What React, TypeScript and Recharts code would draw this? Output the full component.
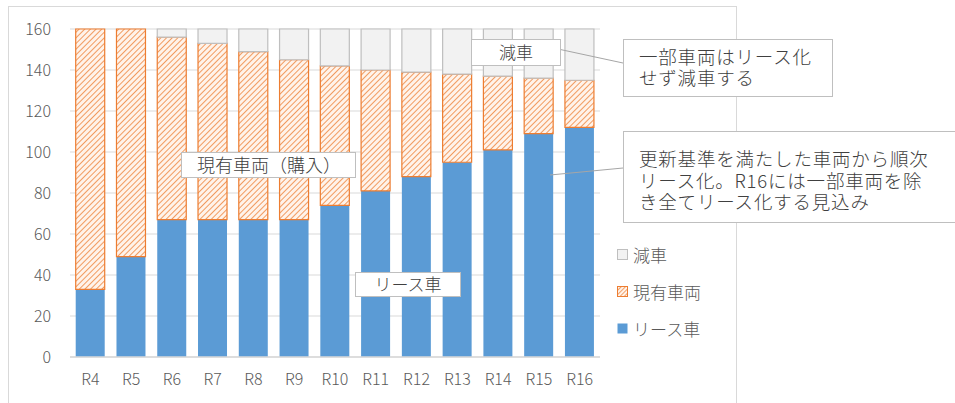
import { BarChart, Bar, XAxis, YAxis, CartesianGrid } from 'recharts';

const categories = ['R4', 'R5', 'R6', 'R7', 'R8', 'R9', 'R10', 'R11', 'R12', 'R13', 'R14', 'R15', 'R16'];
const leaseCars = [33, 49, 67, 67, 67, 67, 74, 81, 88, 95, 101, 109, 112];
const existingCars = [127, 111, 89, 86, 82, 78, 68, 59, 51, 43, 36, 27, 23];
const reducedCars = [0, 0, 4, 7, 11, 15, 18, 20, 21, 22, 23, 24, 25];
const yTicks = [0, 20, 40, 60, 80, 100, 120, 140, 160];

const series = [
  { key: 'reduced', label: '減車', fill: '#F2F2F2', stroke: '#BFBFBF' },
  { key: 'existing', label: '現有車両', fill: 'url(#hatchSmall)', stroke: '#ED7D31' },
  { key: 'lease', label: 'リース車', fill: '#5B9BD5', stroke: 'none' },
];

const data = categories.map((name, i) => ({
  name,
  lease: leaseCars[i],
  existing: existingCars[i],
  reduced: reducedCars[i],
}));

const FONT = '"Noto Sans CJK JP", "Noto Sans", sans-serif';

function LegendBox() {
  return (
    <div style={{ position: 'absolute', left: 617, top: 236, fontFamily: FONT, fontWeight: 300, fontSize: 17, color: '#595959' }}>
      {series.map((s) => (
        <div key={s.key} style={{ display: 'flex', alignItems: 'center', height: 37 }}>
          <svg width={11} height={11} style={{ marginRight: 5 }}>
            <rect x={0.5} y={0.5} width={10} height={10} fill={s.fill} stroke={s.stroke} />
          </svg>
          <span>{s.label}</span>
        </div>
      ))}
    </div>
  );
}

const boxStyle = {
  position: 'absolute' as const,
  background: '#fff',
  border: '1.5px solid #BFBFBF',
  boxSizing: 'border-box' as const,
  fontFamily: FONT,
  fontWeight: 300,
  color: '#404040',
};

export default function App() {
  return (
    <div style={{ position: 'absolute', left: 0, top: 0, width: 955, height: 403, overflow: 'hidden', background: '#fff' }}>
      <div
        style={{
          position: 'absolute',
          left: 8,
          top: 6,
          width: 729,
          height: 420,
          border: '1.5px solid #D9D9D9',
          boxSizing: 'border-box',
        }}
      />
      <div style={{ position: 'absolute', left: 0, top: 0 }}>
        <BarChart
          width={955}
          height={403}
          data={data}
          margin={{ top: 29, right: 355, left: 10, bottom: 16 }}
          barCategoryGap="14%"
        >
          <defs>
            <pattern id="hatch" width="4" height="4" patternUnits="userSpaceOnUse" patternTransform="rotate(45)">
              <rect width="4" height="4" fill="#FFF3EA" />
              <line x1="0" y1="0" x2="0" y2="4" stroke="#ED7D31" strokeWidth="1.5" />
            </pattern>
          </defs>
          <CartesianGrid vertical={false} stroke="#D9D9D9" strokeWidth={1.2} />
          <XAxis
            dataKey="name"
            axisLine={{ stroke: '#D9D9D9', strokeWidth: 1.5 }}
            tickLine={false}
            tickSize={0}
            tickMargin={17}
            height={30}
            interval={0}
            tick={{ fontSize: 16, fill: '#595959', fontFamily: FONT, fontWeight: 300 }}
          />
          <YAxis
            domain={[0, 160]}
            ticks={yTicks}
            width={60}
            axisLine={false}
            tickLine={false}
            tickSize={0}
            tickMargin={19}
            tick={{ fontSize: 16, fill: '#595959', fontFamily: FONT, fontWeight: 300 }}
          />
          <Bar dataKey="lease" name="リース車" stackId="a" fill="#5B9BD5" isAnimationActive={false} />
          <Bar
            dataKey="existing"
            name="現有車両"
            stackId="a"
            fill="url(#hatch)"
            stroke="#ED7D31"
            strokeWidth={1.2}
            isAnimationActive={false}
          />
          <Bar
            dataKey="reduced"
            name="減車"
            stackId="a"
            fill="#F2F2F2"
            stroke="#BFBFBF"
            strokeWidth={1.2}
            isAnimationActive={false}
          />
        </BarChart>
      </div>

      <svg width={955} height={403} style={{ position: 'absolute', left: 0, top: 0, pointerEvents: 'none' }}>
        <defs>
          <pattern id="hatchSmall" width="3" height="3" patternUnits="userSpaceOnUse" patternTransform="rotate(45)">
            <rect width="3" height="3" fill="#FFF3EA" />
            <line x1="0" y1="0" x2="0" y2="3" stroke="#ED7D31" strokeWidth="1.4" />
          </pattern>
        </defs>
        {/* callout leader lines */}
        <line x1={558} y1={49} x2={623} y2={63} stroke="#A6A6A6" strokeWidth={1} />
        <line x1={550} y1={175} x2={623} y2={168} stroke="#A6A6A6" strokeWidth={1} />
      </svg>

      <LegendBox />

      {/* data labels */}
      <div style={{ ...boxStyle, left: 181, top: 152, width: 175, height: 26, fontSize: 18, lineHeight: '23px', paddingLeft: 15 }}>
        現有車両（購入）
      </div>
      <div style={{ ...boxStyle, left: 471, top: 39, width: 90, height: 27, fontSize: 17, lineHeight: '24px', textAlign: 'center' }}>
        減車
      </div>
      <div style={{ ...boxStyle, left: 355, top: 272, width: 106, height: 25, fontSize: 17, lineHeight: '22px', textAlign: 'center' }}>
        リース車
      </div>

      {/* comment boxes */}
      <div
        style={{
          ...boxStyle,
          left: 623,
          top: 39,
          width: 210,
          height: 58,
          fontSize: 18.5,
          letterSpacing: 0.8,
          lineHeight: '21px',
          padding: '6px 0 0 15px',
        }}
      >
        一部車両はリース化
        <br />
        せず減車する
      </div>
      <div
        style={{
          ...boxStyle,
          left: 623,
          top: 131,
          width: 340,
          height: 92,
          fontSize: 18.5,
          letterSpacing: 0.8,
          lineHeight: '21.5px',
          padding: '16px 0 0 15px',
        }}
      >
        更新基準を満たした車両から順次
        <br />
        リース化。R16には一部車両を除
        <br />
        き全てリース化する見込み
      </div>
    </div>
  );
}
